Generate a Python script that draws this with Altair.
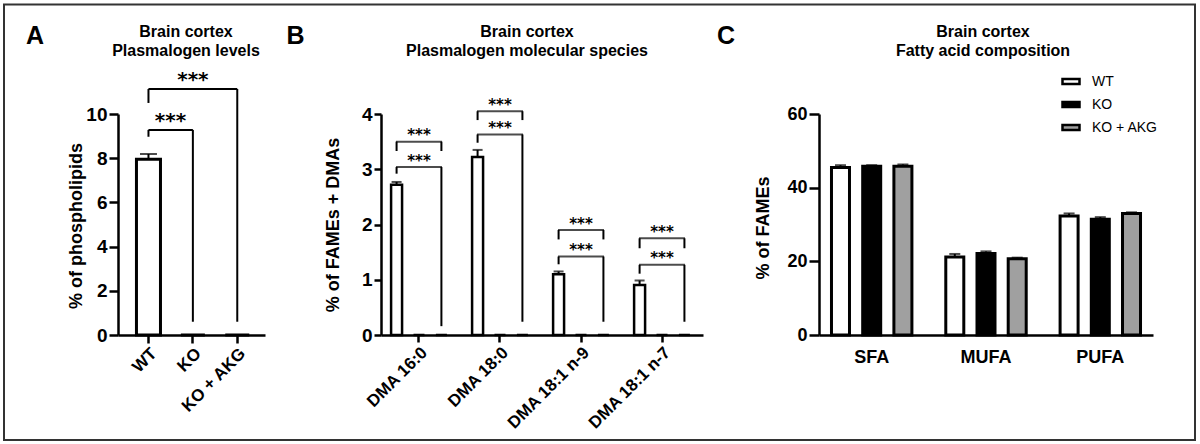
import altair as alt
import pandas as pd

FONT = "Liberation Sans"
STAR_FONT = "DejaVu Sans"

groups = ["WT", "KO", "KO + AKG"]
group_fill = ["#ffffff", "#000000", "#a0a0a0"]

# ---------------- Panel A : plasmalogen levels ----------------
a_values = [7.95, 0.0, 0.0]
a_errors = [0.24, 0.0, 0.0]
a_cmp_right = ["KO", "KO + AKG"]
a_cmp_top = [9.28, 11.13]
a_cmp_left_end = [8.97, 10.50]
a_cmp_right_end = [0.60, 0.60]
a_y_ticks = [0, 2, 4, 6, 8, 10]

# ---------------- Panel B : plasmalogen molecular species ----------------
b_species = ["DMA 16:0", "DMA 18:0", "DMA 18:1 n-9", "DMA 18:1 n-7"]
b_wt = [2.72, 3.22, 1.10, 0.905]
b_wt_err = [0.05, 0.13, 0.05, 0.08]
b_ko = [0.0, 0.0, 0.0, 0.0]
b_akg = [0.0, 0.0, 0.0, 0.0]
b_up_top = [3.50, 4.05, 1.90, 1.75]
b_up_ends = [3.33, 3.89, 1.73, 1.57]
b_lo_top = [3.04, 3.63, 1.42, 1.27]
b_lo_left_end = [2.92, 3.48, 1.28, 1.11]
b_lo_right_end = [0.16, 0.24, 0.24, 0.24]
b_y_ticks = [0, 1, 2, 3, 4]

# ---------------- Panel C : fatty acid composition ----------------
c_acids = ["SFA", "MUFA", "PUFA"]
c_wt = [45.5, 21.2, 32.3]
c_wt_err = [0.6, 0.8, 0.7]
c_ko = [45.8, 22.1, 31.4]
c_ko_err = [0.3, 0.6, 0.6]
c_akg = [45.8, 20.7, 33.0]
c_akg_err = [0.5, 0.3, 0.3]
c_y_ticks = [0, 20, 40, 60]

H = 221

# ---------- tables ----------
dfA = pd.DataFrame({"group": groups, "value": a_values, "err": a_errors})
dfA["hi"] = dfA["value"] + dfA["err"]
brA = pd.DataFrame({"left": ["WT"] * len(a_cmp_right), "right": a_cmp_right,
                    "top": a_cmp_top, "lend": a_cmp_left_end, "rend": a_cmp_right_end})
legsA = pd.concat([
    pd.DataFrame({"group": brA["left"], "y1": brA["lend"], "y2": brA["top"]}),
    pd.DataFrame({"group": brA["right"], "y1": brA["rend"], "y2": brA["top"]}),
])

rowsB = []
for i, s in enumerate(b_species):
    for g, v, e in zip(groups, [b_wt[i], b_ko[i], b_akg[i]], [b_wt_err[i], 0.0, 0.0]):
        rowsB.append({"species": s, "group": g, "value": v, "err": e})
dfB = pd.DataFrame(rowsB)
dfB["hi"] = dfB["value"] + dfB["err"]
brB = pd.DataFrame({
    "species": b_species * 2,
    "mid": ["KO"] * (2 * len(b_species)),
    "top": b_up_top + b_lo_top,
    "lend": b_up_ends + b_lo_left_end,
    "rend": b_up_ends + b_lo_right_end,
})
legsB = pd.concat([
    pd.DataFrame({"species": brB["species"], "group": "WT", "y1": brB["lend"], "y2": brB["top"]}),
    pd.DataFrame({"species": brB["species"], "group": "KO + AKG", "y1": brB["rend"], "y2": brB["top"]}),
])

rowsC = []
for i, a in enumerate(c_acids):
    for g, v, e in zip(groups, [c_wt[i], c_ko[i], c_akg[i]], [c_wt_err[i], c_ko_err[i], c_akg_err[i]]):
        rowsC.append({"acid": a, "group": g, "value": v, "err": e})
dfC = pd.DataFrame(rowsC)
dfC["hi"] = dfC["value"] + dfC["err"]

one = pd.DataFrame({"k": [0]})

axis_common = dict(
    domainColor="black", domainWidth=2.5, tickColor="black", tickWidth=2.5,
    labelColor="black", labelFont=FONT, labelFontWeight="bold",
    titleColor="black", titleFont=FONT, titleFontWeight="bold", titleFontSize=18,
    grid=False,
)


def heading(lines, x, letter_ch, lx):
    t = alt.Chart(one).mark_text(
        font=FONT, fontSize=16, fontWeight="bold", color="black", align="center",
        baseline="alphabetic", lineHeight=19.5, lineBreak="\n"
    ).encode(text=alt.value("\n".join(lines)), x=alt.value(x), y=alt.value(-77.5))
    l = alt.Chart(one).mark_text(
        font=FONT, fontSize=25, fontWeight="bold", color="black", align="center", baseline="alphabetic"
    ).encode(text=alt.value(letter_ch), x=alt.value(lx), y=alt.value(-70.5))
    return [t, l]


# ================= Panel A =================
xA_scale = alt.Scale(domain=groups, paddingInner=0.459, paddingOuter=0.385, align=0.54)
yA_scale = alt.Scale(domain=[0, 10], nice=False)
xA_axis = alt.Axis(title=None, labelAngle=-45, labelAlign="right", labelBaseline="top",
                   labelFontSize=17, labelPadding=2, tickSize=8, **axis_common)
yA_axis = alt.Axis(values=a_y_ticks, title="% of phospholipids", titleX=-42, titleY=111.5,
                   titleAngle=-90, titleAlign="center", titleBaseline="middle",
                   labelFontSize=19, tickSize=9, labelPadding=2, **axis_common)


def xA(f):
    return alt.X(f, scale=xA_scale, axis=xA_axis, sort=groups)


def yA(f):
    return alt.Y(f, scale=yA_scale, axis=yA_axis)


baseA = alt.Chart(dfA)
barsA = baseA.mark_bar(stroke="black", strokeWidth=3).encode(
    x=xA("group:N"), y=yA("value:Q"),
    fill=alt.Fill("group:N", scale=alt.Scale(domain=groups, range=group_fill), legend=None),
)
errA = baseA.transform_filter("datum.err > 0")
errRuleA = errA.mark_rule(color="black", strokeWidth=2).encode(x=xA("group:N"), y=yA("value:Q"), y2="hi:Q")
errCapA = errA.mark_tick(color="black", thickness=2, size=17).encode(x=xA("group:N"), y=yA("hi:Q"))
brHA = alt.Chart(brA).mark_rule(color="black", strokeWidth=2).encode(
    x=xA("left:N"), x2="right:N", y=yA("top:Q"))
brLA = alt.Chart(legsA).mark_rule(color="black", strokeWidth=2).encode(
    x=xA("group:N"), y=yA("y1:Q"), y2="y2:Q")
starsA1 = alt.Chart(brA).transform_filter("datum.right == 'KO'").mark_text(
    font=STAR_FONT, fontSize=20, fontWeight="bold", color="black", baseline="alphabetic", dx=22, dy=-3
).encode(x=xA("left:N"), y=yA("top:Q"), text=alt.value("***"))
starsA2 = alt.Chart(brA).transform_filter("datum.right == 'KO + AKG'").mark_text(
    font=STAR_FONT, fontSize=20, fontWeight="bold", color="black", baseline="alphabetic", dx=44.4, dy=-3
).encode(x=xA("left:N"), y=yA("top:Q"), text=alt.value("***"))
border = alt.Chart(one).mark_rect(fill="white", fillOpacity=0, stroke="#333333", strokeWidth=2).encode(
    x=alt.value(-114), x2=alt.value(1077), y=alt.value(-109.5), y2=alt.value(326))

panelA = alt.layer(border, barsA, errRuleA, errCapA, brHA, brLA, starsA1, starsA2,
                   *heading(["Brain cortex", "Plasmalogen levels"], 68, "A", -83)).properties(
    width=147, height=H)

# ================= Panel B =================
xB_scale = alt.Scale(domain=b_species, paddingInner=0.062, paddingOuter=0.0185, align=0)
xoB_scale = alt.Scale(domain=groups, paddingInner=0.51, paddingOuter=0.45)
yB_scale = alt.Scale(domain=[0, 4], nice=False)
xB_axis = alt.Axis(title=None, labelAngle=-45, labelAlign="right", labelBaseline="top",
                   labelFontSize=17, labelPadding=2, tickSize=7, **axis_common)
yB_axis = alt.Axis(values=b_y_ticks, title="% of FAMEs + DMAs", titleX=-48, titleY=110.5,
                   titleAngle=-90, titleAlign="center", titleBaseline="middle",
                   labelFontSize=19, tickSize=7, labelPadding=2, **axis_common)


def xB(f="species:N"):
    return alt.X(f, scale=xB_scale, axis=xB_axis, sort=b_species)


def xoB(f="group:N"):
    return alt.XOffset(f, scale=xoB_scale, sort=groups)


def yB(f):
    return alt.Y(f, scale=yB_scale, axis=yB_axis)


baseB = alt.Chart(dfB)
barsB = baseB.mark_bar(stroke="black", strokeWidth=2.5).encode(
    x=xB(), xOffset=xoB(), y=yB("value:Q"),
    fill=alt.Fill("group:N", scale=alt.Scale(domain=groups, range=group_fill), legend=None),
)
errB = baseB.transform_filter("datum.err > 0")
errRuleB = errB.mark_rule(color="black", strokeWidth=2).encode(
    x=xB(), xOffset=xoB(), y=yB("value:Q"), y2="hi:Q")
errCapB = errB.mark_tick(color="black", thickness=2, size=10).encode(
    x=xB(), xOffset=xoB(), y=yB("hi:Q"))
brHB = alt.Chart(brB).mark_tick(color="black", thickness=2, size=46).encode(
    x=xB(), xOffset=xoB("mid:N"), y=yB("top:Q"))
brLB = alt.Chart(legsB).mark_rule(color="black", strokeWidth=2).encode(
    x=xB(), xOffset=xoB(), y=yB("y1:Q"), y2="y2:Q")
starsB = alt.Chart(brB).mark_text(
    font=STAR_FONT, fontSize=15, fontWeight="bold", color="black", baseline="alphabetic", dy=-1.5
).encode(x=xB(), xOffset=xoB("mid:N"), y=yB("top:Q"), text=alt.value("***"))

panelB = alt.layer(barsB, errRuleB, errCapB, brHB, brLB, starsB,
                   *heading(["Brain cortex", "Plasmalogen molecular species"], 146, "B", -85.5)).properties(
    width=322, height=H)

# ================= Panel C =================
xC_scale = alt.Scale(domain=c_acids, paddingInner=0.078, paddingOuter=0)
xoC_scale = alt.Scale(domain=groups, paddingInner=0.423, paddingOuter=0.40)
yC_scale = alt.Scale(domain=[0, 60], nice=False)
xC_axis = alt.Axis(title=None, labelAngle=0, labelAlign="center", labelBaseline="top",
                   labelFontSize=18, labelPadding=13, ticks=False, **axis_common)
yC_axis = alt.Axis(values=c_y_ticks, title="% of FAMEs", titleX=-56, titleY=113.5,
                   titleAngle=-90, titleAlign="center", titleBaseline="middle",
                   labelFontSize=18, tickSize=10, labelPadding=2, **axis_common)


def xC(f="acid:N"):
    return alt.X(f, scale=xC_scale, axis=xC_axis, sort=c_acids)


def xoC(f="group:N"):
    return alt.XOffset(f, scale=xoC_scale, sort=groups)


def yC(f):
    return alt.Y(f, scale=yC_scale, axis=yC_axis)


baseC = alt.Chart(dfC)
barsC = baseC.mark_bar(stroke="black", strokeWidth=3).encode(
    x=xC(), xOffset=xoC(), y=yC("value:Q"),
    fill=alt.Fill("group:N", scale=alt.Scale(domain=groups, range=group_fill), sort=groups,
                  legend=alt.Legend(
                      title=None, orient="none", legendX=242, legendY=-42.5, padding=0,
                      symbolType="M-1,-0.28H1V0.28H-1Z", symbolSize=289, symbolStrokeColor="black",
                      symbolStrokeWidth=2.5, symbolOpacity=1, labelFont=FONT, labelFontSize=14,
                      labelFontWeight="normal", labelColor="black", labelOffset=11, rowPadding=5)),
)
errRuleC = baseC.mark_rule(color="black", strokeWidth=2).encode(
    x=xC(), xOffset=xoC(), y=yC("value:Q"), y2="hi:Q")
errCapC = baseC.mark_tick(color="black", thickness=2, size=11).encode(
    x=xC(), xOffset=xoC(), y=yC("hi:Q"))

panelC = alt.layer(errRuleC, errCapC, barsC,
                   *heading(["Brain cortex", "Fatty acid composition"], 164, "C", -93)).properties(
    width=334, height=H)

chart = alt.hconcat(panelA, panelB, panelC, spacing=116, bounds="flush").resolve_scale(
    xOffset="independent", fill="independent"
).resolve_legend(fill="independent").properties(
    padding={"left": 3, "top": 3, "right": 4, "bottom": 3.5},
    background="white",
).configure_view(stroke=None).configure_tick(bandSize=10)

chart.save("out.html", embed_options={"renderer": "svg", "actions": False})
